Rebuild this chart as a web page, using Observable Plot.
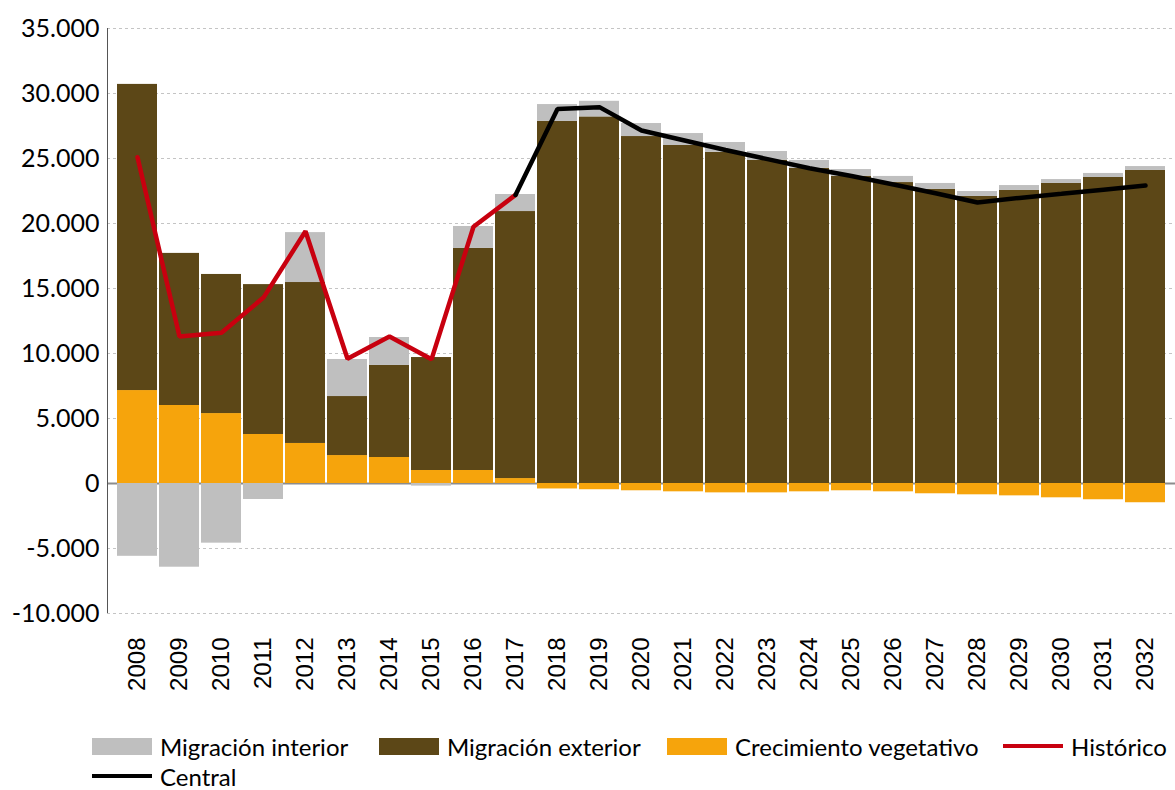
<!DOCTYPE html>
<html>
<head>
<meta charset="utf-8">
<script src="https://cdn.jsdelivr.net/npm/d3@7"></script>
<script src="https://cdn.jsdelivr.net/npm/@observablehq/plot@0.6"></script>
<style>
  html, body { margin: 0; padding: 0; background: #fff; }
  #wrap { position: relative; width: 1175px; height: 790px; overflow: hidden; }
  #chart svg { display: block; }
  g[aria-label="y-axis tick label"] text { font-family: Lato, sans-serif; font-size: 25px; fill: #000; }
  g[aria-label="x-axis tick label"] text { font-family: "Liberation Sans", Arial, sans-serif; font-size: 24px; fill: #000; }
  .lg { position: absolute; display: flex; align-items: center; font-family: Lato, sans-serif; font-size: 24px; color: #000; white-space: nowrap; }
  .sw { width: 60px; height: 17px; margin-right: 8px; }
  .ln { width: 60px; height: 4px; margin-right: 8px; }
</style>
</head>
<body>
<div id="wrap">
  <div id="chart"></div>
  <div id="legend"></div>
</div>
<script>
const years = ["2008","2009","2010","2011","2012","2013","2014","2015","2016","2017","2018","2019","2020","2021","2022","2023","2024","2025","2026","2027","2028","2029","2030","2031","2032"];
const crecimientoVegetativo = [7150, 6000, 5380, 3770, 3080, 2150, 2000, 1000, 1000, 380, -420, -480, -560, -640, -720, -720, -640, -560, -640, -790, -870, -950, -1100, -1250, -1480];
const migracionExterior = [23550, 11700, 10700, 11530, 12380, 4540, 7080, 8690, 17080, 20540, 27850, 28200, 26690, 26000, 25480, 24870, 24250, 23640, 23150, 22620, 22080, 22540, 23080, 23540, 24080];
const migracionInterior = [-5600, -6440, -4590, -1230, 3840, 2850, 2150, -200, 1690, 1310, 1300, 1200, 1000, 920, 750, 670, 600, 510, 470, 460, 380, 380, 300, 310, 300];
const historicoYears = ["2008","2009","2010","2011","2012","2013","2014","2015","2016","2017"];
const historico = [25100, 11300, 11600, 14300, 19400, 9600, 11300, 9550, 19750, 22200];
const centralYears = ["2017","2018","2019","2020","2021","2022","2023","2024","2025","2026","2027","2028","2029","2030","2031","2032"];
const central = [22200, 28800, 28950, 27150, 26400, 25650, 24950, 24250, 23650, 23000, 22330, 21620, 21970, 22280, 22600, 22920];
const yTicks = [-10000, -5000, 0, 5000, 10000, 15000, 20000, 25000, 30000, 35000];
const seriesNames = ["Crecimiento vegetativo", "Migración exterior", "Migración interior"];
const seriesColors = ["#F6A40C", "#5C4717", "#BFBFBF"];

const barData = [];
years.forEach((y, i) => {
  barData.push({year: y, serie: seriesNames[0], value: crecimientoVegetativo[i]});
  barData.push({year: y, serie: seriesNames[1], value: migracionExterior[i]});
  barData.push({year: y, serie: seriesNames[2], value: migracionInterior[i]});
});
const histData = historicoYears.map((y, i) => ({year: y, value: historico[i]}));
const centralData = centralYears.map((y, i) => ({year: y, value: central[i]}));

const locale = d3.formatLocale({decimal: ",", thousands: ".", grouping: [3], currency: ["", "€"], minus: "-"});
const fmt = locale.format(",");

const chart = Plot.plot({
  width: 1175,
  height: 722,
  marginLeft: 107,
  marginRight: 0,
  marginTop: 28,
  marginBottom: 109,
  style: {background: "#fff", overflow: "visible"},
  x: {domain: years, padding: 0.055, label: null},
  y: {domain: [-10000, 35000], label: null},
  color: {domain: seriesNames, range: seriesColors},
  marks: [
    Plot.gridY(yTicks.filter(d => d !== 0), {stroke: "#c4c4c4", strokeOpacity: 1, strokeDasharray: "3,3"}),
    Plot.ruleY([0], {stroke: "#8c8c8c", strokeWidth: 2}),
    Plot.barY(barData, Plot.stackY({x: "year", y: "value", fill: "serie", order: seriesNames})),
    Plot.line(histData, {x: "year", y: "value", stroke: "#C8000F", strokeWidth: 4.5, strokeLinejoin: "miter"}),
    Plot.line(centralData, {x: "year", y: "value", stroke: "#000", strokeWidth: 4.5, strokeLinejoin: "miter"}),
    (index, scales, values, dims) => {
      const g = d3.create("svg:g");
      g.append("line").attr("x1", dims.marginLeft + 0.5).attr("x2", dims.marginLeft + 0.5)
        .attr("y1", scales.y(35000)).attr("y2", scales.y(-10000))
        .attr("stroke", "#555").attr("stroke-width", 1);
      return g.node();
    },
    Plot.axisY(yTicks, {tickSize: 0, tickPadding: 8, tickFormat: fmt}),
    Plot.axisX({tickSize: 0, tickRotate: -90, tickPadding: 24})
  ]
});
document.getElementById("chart").appendChild(chart);

const legendItems = [
  {label: "Migración interior", color: "#BFBFBF", type: "sw", left: 92, top: 737},
  {label: "Migración exterior", color: "#5C4717", type: "sw", left: 379, top: 737},
  {label: "Crecimiento vegetativo", color: "#F6A40C", type: "sw", left: 667, top: 737},
  {label: "Histórico", color: "#C8000F", type: "ln", left: 1003, top: 737},
  {label: "Central", color: "#000", type: "ln", left: 92, top: 767}
];
const legend = document.getElementById("legend");
legendItems.forEach(it => {
  const d = document.createElement("div");
  d.className = "lg";
  d.style.left = it.left + "px";
  d.style.top = it.top + "px";
  d.style.height = "18px";
  const s = document.createElement("span");
  s.className = it.type;
  s.style.background = it.color;
  d.appendChild(s);
  const t = document.createElement("span");
  t.textContent = it.label;
  d.appendChild(t);
  legend.appendChild(d);
});
</script>
</body>
</html>
